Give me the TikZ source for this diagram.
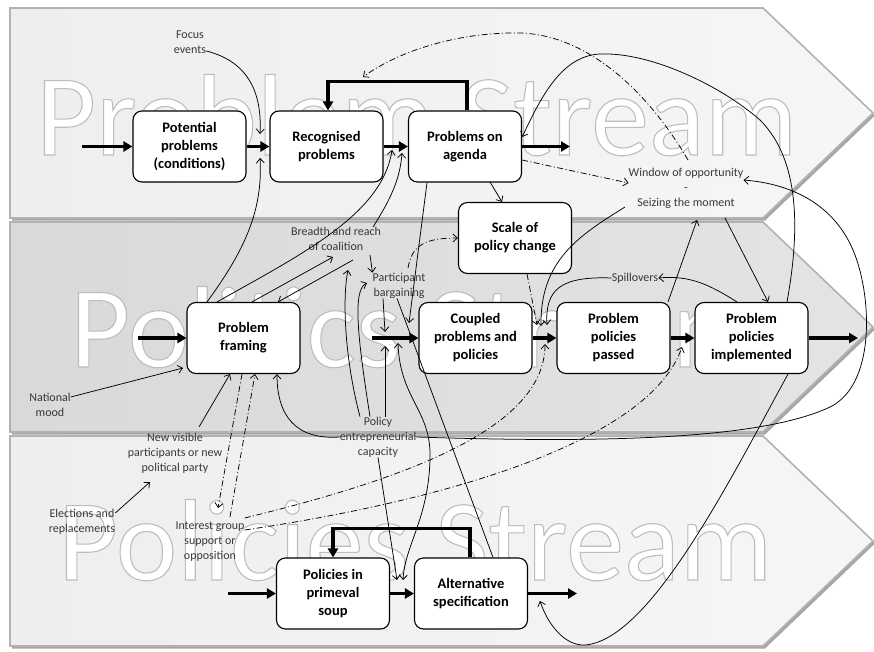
\documentclass[tikz,border=0pt]{standalone}
\usepackage{fontspec}
\setmainfont{Carlito}
\usetikzlibrary{arrows.meta,calc}
\definecolor{labc}{HTML}{383838}
\tikzset{
  bandshadow/.style={fill=black!35},
  bandedge/.style={draw=black!30,line width=1.6pt},
  box/.style={draw,line width=1.1pt,rounded corners=9pt,fill=white,minimum width=113pt,minimum height=71pt,align=center,inner sep=1pt,font=\bfseries\fontsize{14.5}{18}\selectfont},
  lab/.style={align=center,inner sep=0pt,text=labc,font=\fontsize{12}{15}\selectfont},
  wm/.style={anchor=base west,inner sep=0pt,text=white,font=\fontsize{116}{116}\selectfont},
  thickarr/.style={line width=3.2pt,-{Triangle[length=9pt,width=10pt]}},
  thin/.style={line width=0.75pt,-{Straight Barb[length=4.5pt,width=8pt]}},
  thinboth/.style={line width=0.75pt,{Straight Barb[length=4.5pt,width=8pt]}-{Straight Barb[length=4.5pt,width=8pt]}},
  plain/.style={line width=0.75pt},
  dd/.style={line width=0.75pt,dash pattern=on 6pt off 2.5pt on 1pt off 2.5pt,-{Straight Barb[length=4.5pt,width=8pt]}},
}
\newcommand{\wmark}[4]{%
  \node[wm] (#1) at (#2,#3) {\special{pdf:literal direct 2 Tr 1.1 w 0.74 G}#4\special{pdf:literal direct 0 Tr 0 G 0.4 w}};}
\begin{document}
\begin{tikzpicture}[x=1pt,y=-1pt]
\useasboundingbox (0,0) rectangle (874,652);
\fill[white] (0,0) rectangle (874,652);
% ---- bands ----
\foreach \dy/\ca/\cb in {0/EEEEEE/F6F6F6, 214/D9D9D9/E4E4E4, 428/EEEEEE/F6F6F6}{
  \fill[bandshadow,shift={(2,2.5)}] (10,8+\dy) -- (763,8+\dy) -- (873,113+\dy) -- (763,218+\dy) -- (10,218+\dy) -- cycle;
  \definecolor{bca}{HTML}{\ca}\definecolor{bcb}{HTML}{\cb}
  \shade[left color=bca,right color=bcb] (10,8+\dy) -- (763,8+\dy) -- (873,113+\dy) -- (763,218+\dy) -- (10,218+\dy) -- cycle;
  \draw[bandedge] (10,8+\dy) -- (763,8+\dy) -- (873,113+\dy) -- (763,218+\dy) -- (10,218+\dy) -- cycle;
}
% ---- watermarks ----
\wmark{wm1}{36}{155}{Problem Stream}
\wmark{wm2}{70}{367}{Politics Stream}
\wmark{wm3}{58}{580}{Policies Stream}
% ---- boxes ----
\node[box] (pp) at (189.5,146.5) {Potential\\problems\\(conditions)};
\node[box] (rp) at (326.5,146.5) {Recognised\\problems};
\node[box] (pa) at (465,146.5) {Problems on\\agenda};
\node[box] (sc) at (515,238) {Scale of\\policy change};
\node[box] (pf) at (243.5,338) {Problem\\framing};
\node[box] (cp) at (475.5,338) {Coupled\\problems and\\policies};
\node[box] (pps) at (613.5,338) {Problem\\policies\\passed};
\node[box] (ppi) at (751.5,338) {Problem\\policies\\implemented};
\node[box] (ps) at (333,593.5) {Policies in\\primeval\\soup};
\node[box] (as) at (471,593.5) {Alternative\\specification};
% ---- labels ----
\node[lab] (focus) at (190,42.5) {Focus\\events};
\node[lab] (win) at (686,188) {Window of opportunity\\-\\Seizing the moment};
\node[lab] (breadth) at (336,239) {Breadth and reach\\of coalition};
\node[lab] (part) at (399,285.5) {Participant\\bargaining};
\node[lab] (spill) at (635,278) {Spillovers};
\node[lab] (mood) at (50,404.5) {National\\mood};
\node[lab] (newvis) at (175,453) {New visible\\participants or new\\political party};
\node[lab] (elect) at (82,521.5) {Elections and\\replacements};
\node[lab] (interest) at (210,541.5) {Interest group\\support or\\opposition};
\node[lab] (policy) at (378,437) {Policy\\entrepreneurial\\capacity};
% ---- coordinates ----
\coordinate (in1) at (82,146.5);
\coordinate (out1) at (570,146.5);
\coordinate (in2) at (138,338);
\coordinate (cin) at (372,338);
\coordinate (out2) at (858,338);
\coordinate (in3) at (228,593.5);
\coordinate (out3) at (577,593.5);
% ---- thick arrows ----
\draw[thickarr] (in1) -- (pp);
\draw[thickarr] (pp) -- (rp);
\draw[thickarr] (rp) -- (pa);
\draw[thickarr] (pa) -- (out1);
\draw[thickarr] ([xshift=2pt]pa.north) -- ++(0,-29) -| ([xshift=1.5pt]rp.north);
\draw[thickarr] (in2) -- (pf);
\draw[thickarr] (cin) -- (cp);
\draw[thickarr] (cp) -- (pps);
\draw[thickarr] (pps) -- (ppi);
\draw[thickarr] (ppi) -- (out2);
\draw[thickarr] (in3) -- (ps);
\draw[thickarr] (ps) -- (as);
\draw[thickarr] (as) -- (out3);
\draw[thickarr] ([xshift=-1pt]as.north) -- ++(0,-29) -| (ps.north);
% ---- thin connectors ----
\draw[thin] (focus.east |- 0,51) .. controls (250,62) and (262,95) .. (260,134);
\draw[thin] (pf.north -| 207,0) .. controls (245,250) and (263,210) .. (260,158);
\draw[thin] (pf.north -| 217,0) .. controls (300,255) and (382,215) .. (392,150);
\draw[thin] (breadth.north -| 373,0) .. controls (390,200) and (400,180) .. (402,153);
\draw[thin] (pf.north -| 252,0) -- (333,257);
\draw[thin] (353,260) -- (pf.north -| 278,0);
\draw[thin] (370,255) -- (part.north west);
\draw[thin] (policy.north -| 360,0) .. controls (345,360) and (342,300) .. (348,270);
\draw[thin] (policy.north -| 370,0) .. controls (358,340) and (352,290) .. (367,283);
\draw[thin] (part.south -| 383,0) -- (385,332);
\draw[thin] (pa.south -| 427,0) -- (409,323);
\draw[thin] (policy.north -| 385,0) -- (385,346);
\draw[thinboth] (398,343) .. controls (400,400) and (432,410) .. (430,460) .. controls (428,520) and (405,545) .. (403,580);
\draw[plain] (part.south -| 397,0) -- (as.north -| 493,0);
\draw[thin] (policy.west) .. controls (295,440) and (277,415) .. (pf.south -| 277,0);
\draw[thin] (policy.east) .. controls (600,443) and (760,440) .. (830,407) .. controls (875,385) and (872,300) .. (855,255) .. controls (840,215) and (805,185) .. (win.north east |- 0,180);
\draw[thin] (ppi.north -| 787,0) .. controls (800,230) and (800,160) .. (760,120) .. controls (720,85) and (650,52) .. (600,54) .. controls (560,56) and (540,100) .. (pa.east |- 0,137);
\draw[thin] (ppi.south -| 788,0) .. controls (730,480) and (650,640) .. (585,645) .. controls (565,646) and (548,625) .. (540,601);
\draw[dd] (pa.south east |- 0,160) -- (win.west |- 0,183);
\draw[dd] (688,160) .. controls (650,95) and (590,35) .. (520,33) .. controls (460,32) and (400,50) .. (363,77);
\draw[thin] (490,182) -- (sc.north -| 502,0);
\draw[dd] (408,268) .. controls (412,245) and (425,238) .. (sc.west);
\draw[dd] (sc.south -| 527,0) -- (537,325);
\draw[thin] (625,207) .. controls (580,235) and (540,260) .. (541,326);
\draw[thin] (spill.west) .. controls (560,276) and (545,290) .. (547,325);
\draw[thin] (ppi.north -| 737,0) .. controls (710,285) and (690,275) .. (spill.east);
\draw[thin] (pps.north -| 668,0) -- (697,220);
\draw[thin] (725,218) -- (ppi.north -| 768,0);
\draw[dd] (interest.east |- 0,518) .. controls (400,480) and (545,430) .. (545,344);
\draw[dd] (interest.east |- 0,530) .. controls (450,500) and (650,440) .. (682,347);
\draw[dd] (pf.south -| 242,0) -- (218,508);
\draw[dd] (230,517) -- (pf.south -| 255,0);
\draw[thin] (elect.east |- 0,513) -- (150,482);
\draw[thin] (199,427) -- (pf.south -| 230,0);
\draw[thin] (mood.east |- 0,397) -- (183,368);
\draw[thin] (policy.south) -- (397,580);
\end{tikzpicture}
\end{document}
